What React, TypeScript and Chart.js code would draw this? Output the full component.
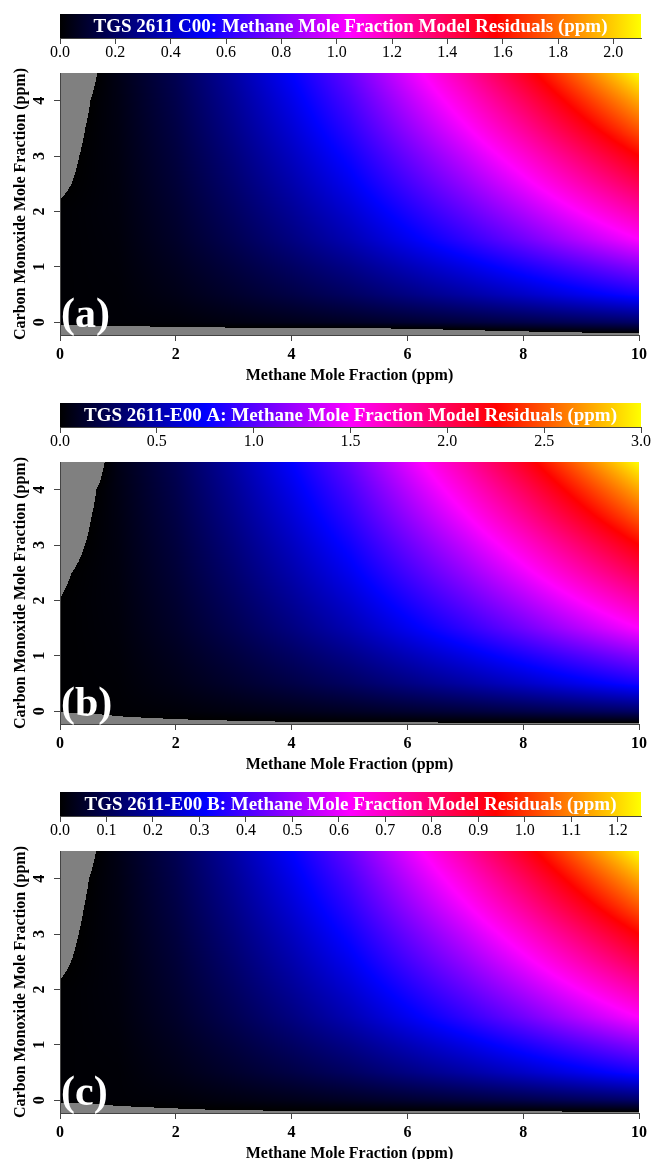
import React, { useEffect, useRef } from 'react';
import { Chart, registerables } from 'chart.js';
Chart.register(...registerables);

// ---------------- data ----------------
const methaneTicks = [0, 2, 4, 6, 8, 10];
const coTicks = [0, 1, 2, 3, 4];
const methaneRange = [0, 10];
const coRange = [-0.23, 4.5];

// grid nodes of the residual surfaces
const gridCH4 = [0, 1, 2, 3, 4, 5, 6, 7, 8, 9, 10];
const gridCO = [-0.25, 0, 0.5, 1, 1.5, 2, 2.5, 3, 3.5, 4, 4.5];

// rows follow gridCO (bottom to top), columns follow gridCH4
const residualsC00 = [
  [-0.04, -0.034, -0.033, -0.055, -0.08, -0.102, -0.116, -0.097, -0.078, -0.064, -0.053],
  [0.01, 0.012, 0.017, 0.034, 0.053, 0.074, 0.099, 0.124, 0.151, 0.181, 0.21],
  [0.008, 0.013, 0.045, 0.091, 0.142, 0.199, 0.267, 0.335, 0.408, 0.488, 0.567],
  [0.007, 0.017, 0.064, 0.128, 0.2, 0.279, 0.375, 0.471, 0.575, 0.686, 0.798],
  [0.006, 0.021, 0.084, 0.168, 0.263, 0.368, 0.494, 0.62, 0.756, 0.903, 1.05],
  [0.005, 0.025, 0.098, 0.197, 0.307, 0.43, 0.577, 0.725, 0.885, 1.057, 1.229],
  [-0.007, 0.028, 0.113, 0.225, 0.352, 0.493, 0.661, 0.83, 1.013, 1.21, 1.407],
  [-0.016, 0.032, 0.126, 0.252, 0.394, 0.551, 0.74, 0.929, 1.134, 1.355, 1.575],
  [-0.027, 0.035, 0.14, 0.281, 0.438, 0.614, 0.824, 1.035, 1.263, 1.508, 1.754],
  [-0.042, 0.038, 0.154, 0.307, 0.48, 0.673, 0.903, 1.134, 1.384, 1.653, 1.922],
  [-0.075, 0.042, 0.168, 0.336, 0.525, 0.735, 0.987, 1.239, 1.512, 1.806, 2.1],
];

const residualsE00A = [
  [-0.058, -0.02, -0.019, -0.023, -0.024, -0.026, -0.035, -0.039, -0.048, -0.049, -0.057],
  [0.005, 0.011, 0.024, 0.048, 0.075, 0.105, 0.141, 0.177, 0.216, 0.258, 0.3],
  [0.006, 0.016, 0.065, 0.13, 0.203, 0.284, 0.381, 0.478, 0.583, 0.697, 0.81],
  [0.004, 0.023, 0.091, 0.182, 0.285, 0.399, 0.536, 0.673, 0.821, 0.98, 1.14],
  [0.003, 0.03, 0.12, 0.24, 0.375, 0.525, 0.705, 0.885, 1.08, 1.29, 1.5],
  [0.001, 0.035, 0.14, 0.281, 0.439, 0.614, 0.825, 1.036, 1.264, 1.509, 1.755],
  [-0.01, 0.04, 0.161, 0.322, 0.503, 0.704, 0.945, 1.186, 1.447, 1.729, 2.01],
  [-0.034, 0.045, 0.18, 0.36, 0.563, 0.788, 1.058, 1.328, 1.62, 1.935, 2.25],
  [-0.059, 0.05, 0.2, 0.401, 0.626, 0.877, 1.177, 1.478, 1.804, 2.154, 2.505],
  [-0.093, 0.055, 0.22, 0.439, 0.686, 0.961, 1.29, 1.62, 1.976, 2.361, 2.745],
  [-0.201, 0.06, 0.24, 0.48, 0.75, 1.05, 1.41, 1.77, 2.16, 2.58, 3.0],
];

const residualsE00B = [
  [-0.026, -0.01, -0.007, -0.008, -0.01, -0.012, -0.015, -0.019, -0.023, -0.024, -0.024],
  [0.005, 0.007, 0.01, 0.02, 0.031, 0.044, 0.059, 0.074, 0.09, 0.108, 0.125],
  [0.005, 0.007, 0.027, 0.054, 0.084, 0.118, 0.159, 0.199, 0.243, 0.29, 0.338],
  [0.004, 0.01, 0.038, 0.076, 0.119, 0.166, 0.223, 0.28, 0.342, 0.409, 0.475],
  [0.003, 0.013, 0.05, 0.1, 0.156, 0.219, 0.294, 0.369, 0.45, 0.538, 0.625],
  [0.002, 0.015, 0.059, 0.117, 0.183, 0.256, 0.344, 0.432, 0.527, 0.629, 0.731],
  [-0.004, 0.017, 0.067, 0.134, 0.209, 0.293, 0.394, 0.494, 0.603, 0.72, 0.838],
  [-0.009, 0.019, 0.075, 0.15, 0.234, 0.328, 0.441, 0.553, 0.675, 0.806, 0.938],
  [-0.015, 0.021, 0.084, 0.167, 0.261, 0.365, 0.491, 0.616, 0.752, 0.898, 1.044],
  [-0.023, 0.023, 0.092, 0.183, 0.286, 0.4, 0.538, 0.675, 0.824, 0.984, 1.144],
  [-0.041, 0.025, 0.1, 0.2, 0.313, 0.438, 0.588, 0.738, 0.9, 1.075, 1.25],
];

const cbTicksC00 = [0, 0.2, 0.4, 0.6, 0.8, 1.0, 1.2, 1.4, 1.6, 1.8, 2.0];
const cbTicksE00A = [0, 0.5, 1.0, 1.5, 2.0, 2.5, 3.0];
const cbTicksE00B = [0, 0.1, 0.2, 0.3, 0.4, 0.5, 0.6, 0.7, 0.8, 0.9, 1.0, 1.1, 1.2];
const cbMaxes = [2.1, 3.0, 1.25];

const panelTitles = [
  'TGS 2611 C00: Methane Mole Fraction Model Residuals (ppm)',
  'TGS 2611-E00 A: Methane Mole Fraction Model Residuals (ppm)',
  'TGS 2611-E00 B: Methane Mole Fraction Model Residuals (ppm)',
];
const panelLetters = ['(a)', '(b)', '(c)'];
const xTitle = 'Methane Mole Fraction (ppm)';
const yTitle = 'Carbon Monoxide Mole Fraction (ppm)';

const rampColors = ['#000000', '#0000ff', '#ff00ff', '#ff0000', '#ffff00'];
const belowRangeColor = [128, 128, 128];

const panelData = [residualsC00, residualsE00A, residualsE00B];
const panelCbTicks = [cbTicksC00, cbTicksE00A, cbTicksE00B];

// ---------------- helpers ----------------
const FONT = '"Liberation Serif", "Times New Roman", serif';

function hexToRgb(h: string) {
  return [parseInt(h.slice(1, 3), 16), parseInt(h.slice(3, 5), 16), parseInt(h.slice(5, 7), 16)];
}
const rampRgb = rampColors.map(hexToRgb);

function ramp(t: number) {
  const tt = Math.max(0, Math.min(1, t));
  const s = tt * (rampRgb.length - 1);
  const k = Math.min(rampRgb.length - 2, Math.floor(s));
  const f = s - k;
  const a = rampRgb[k], b = rampRgb[k + 1];
  return [a[0] + (b[0] - a[0]) * f, a[1] + (b[1] - a[1]) * f, a[2] + (b[2] - a[2]) * f];
}

function sample(values: number[][], xv: number, yv: number) {
  let i = 0;
  while (i < gridCH4.length - 2 && xv > gridCH4[i + 1]) i++;
  let j = 0;
  while (j < gridCO.length - 2 && yv > gridCO[j + 1]) j++;
  const tx = (xv - gridCH4[i]) / (gridCH4[i + 1] - gridCH4[i]);
  const ty = (yv - gridCO[j]) / (gridCO[j + 1] - gridCO[j]);
  const v00 = values[j][i], v10 = values[j][i + 1];
  const v01 = values[j + 1][i], v11 = values[j + 1][i + 1];
  return v00 * (1 - tx) * (1 - ty) + v10 * tx * (1 - ty) + v01 * (1 - tx) * ty + v11 * tx * ty;
}

const PANEL_OFFSETS = [0, 389, 778];
const CB_H = 60;
const HM_H = 330;

function makeColorbar(canvas: HTMLCanvasElement, idx: number) {
  const max = cbMaxes[idx];
  const ticks = panelCbTicks[idx];
  return new Chart(canvas, {
    type: 'scatter',
    data: { datasets: [] },
    options: {
      responsive: false,
      animation: false,
      devicePixelRatio: 1,
      events: [],
      layout: { padding: { left: 60, right: 10, top: 14, bottom: 0 } },
      plugins: { legend: { display: false }, tooltip: { enabled: false } },
      scales: {
        x: {
          type: 'linear',
          position: 'bottom',
          min: 0,
          max,
          afterBuildTicks: (axis: any) => {
            axis.ticks = ticks.map((v) => ({ value: v }));
          },
          afterFit: (axis: any) => {
            axis.height = 22;
          },
          ticks: {
            color: '#000',
            font: { family: FONT, size: 16 },
            padding: -1,
            maxRotation: 0,
            autoSkip: false,
            callback: (v: any) => Number(v).toFixed(1),
          },
          grid: { drawOnChartArea: false, drawTicks: true, tickLength: 6, color: '#444' },
          border: { display: true, color: '#444' },
        },
        y: { display: false, min: 0, max: 1 },
      },
    },
    plugins: [
      {
        id: 'colorbar',
        beforeDraw(chart: any) {
          const { ctx, chartArea: a, scales } = chart;
          const x0 = scales.x.getPixelForValue(0);
          const x1 = scales.x.getPixelForValue(max);
          const g = ctx.createLinearGradient(x0, 0, x1, 0);
          rampColors.forEach((c, k) => g.addColorStop(k / (rampColors.length - 1), c));
          ctx.save();
          ctx.fillStyle = g;
          ctx.fillRect(a.left, a.top, a.right - a.left, a.bottom - a.top);
          ctx.restore();
        },
        afterDraw(chart: any) {
          const { ctx, chartArea: a } = chart;
          ctx.save();
          ctx.fillStyle = '#ffffff';
          ctx.font = `bold 19px ${FONT}`;
          ctx.textAlign = 'center';
          ctx.textBaseline = 'middle';
          ctx.fillText(panelTitles[idx], (a.left + a.right) / 2, (a.top + a.bottom) / 2 + 1);
          ctx.restore();
        },
      },
    ],
  } as any);
}

function makeHeatmap(canvas: HTMLCanvasElement, idx: number) {
  const values = panelData[idx];
  const max = cbMaxes[idx];
  return new Chart(canvas, {
    type: 'scatter',
    data: { datasets: [] },
    options: {
      responsive: false,
      animation: false,
      devicePixelRatio: 1,
      events: [],
      layout: { padding: { left: 0, right: 10, top: 13, bottom: 0 } },
      plugins: { legend: { display: false }, tooltip: { enabled: false } },
      scales: {
        x: {
          type: 'linear',
          position: 'bottom',
          min: methaneRange[0],
          max: methaneRange[1],
          afterBuildTicks: (axis: any) => {
            axis.ticks = methaneTicks.map((v) => ({ value: v }));
          },
          afterFit: (axis: any) => {
            axis.height = 55;
          },
          ticks: {
            color: '#000',
            font: { family: FONT, size: 16, weight: 'bold' },
            padding: 4,
            maxRotation: 0,
            autoSkip: false,
          },
          grid: { drawOnChartArea: false, drawTicks: true, tickLength: 6, color: '#444' },
          border: { display: true, color: '#444' },
          title: {
            display: true,
            text: xTitle,
            color: '#000',
            font: { family: FONT, size: 16, weight: 'bold' },
            padding: { top: 0, bottom: 5 },
          },
        },
        y: {
          type: 'linear',
          position: 'left',
          min: coRange[0],
          max: coRange[1],
          afterBuildTicks: (axis: any) => {
            axis.ticks = coTicks.map((v) => ({ value: v }));
          },
          afterFit: (axis: any) => {
            axis.width = 60;
            axis.paddingTop = 0;
            axis.paddingBottom = 0;
          },
          ticks: {
            color: '#000',
            font: { family: FONT, size: 16, weight: 'bold' },
            padding: 10,
            minRotation: 90,
            maxRotation: 90,
            crossAlign: 'center',
            autoSkip: false,
          },
          grid: { drawOnChartArea: false, drawTicks: true, tickLength: 6, color: '#444' },
          border: { display: true, color: '#444' },
          title: {
            display: true,
            text: yTitle,
            color: '#000',
            font: { family: FONT, size: 16, weight: 'bold' },
            padding: { top: 11, bottom: 0 },
          },
        },
      },
    },
    plugins: [
      {
        id: 'heatmap',
        beforeDraw(chart: any) {
          const { ctx, chartArea: a, scales } = chart;
          const L = Math.round(a.left);
          const T = Math.round(a.top);
          const W = Math.round(a.right) - L;
          const H = Math.round(a.bottom) - T;
          const img = ctx.createImageData(W, H);
          const xs: number[] = [];
          for (let i = 0; i < W; i++) xs.push(scales.x.getValueForPixel(L + i + 0.5));
          for (let j = 0; j < H; j++) {
            const yv = scales.y.getValueForPixel(T + j + 0.5);
            for (let i = 0; i < W; i++) {
              const v = sample(values, xs[i], yv);
              const c = v < 0 ? belowRangeColor : ramp(v / max);
              const o = (j * W + i) * 4;
              img.data[o] = c[0];
              img.data[o + 1] = c[1];
              img.data[o + 2] = c[2];
              img.data[o + 3] = 255;
            }
          }
          ctx.putImageData(img, L, T);
        },
        afterDraw(chart: any) {
          const { ctx, chartArea: a } = chart;
          ctx.save();
          ctx.fillStyle = '#ffffff';
          ctx.font = `bold 42px ${FONT}`;
          ctx.textAlign = 'left';
          ctx.textBaseline = 'alphabetic';
          ctx.fillText(panelLetters[idx], a.left + 1, a.bottom - 8);
          ctx.restore();
        },
      },
    ],
  } as any);
}

export default function App() {
  const cbRefs = [useRef<HTMLCanvasElement>(null), useRef<HTMLCanvasElement>(null), useRef<HTMLCanvasElement>(null)];
  const hmRefs = [useRef<HTMLCanvasElement>(null), useRef<HTMLCanvasElement>(null), useRef<HTMLCanvasElement>(null)];

  useEffect(() => {
    const charts: Chart[] = [];
    for (let k = 0; k < 3; k++) {
      if (cbRefs[k].current) charts.push(makeColorbar(cbRefs[k].current as HTMLCanvasElement, k));
      if (hmRefs[k].current) charts.push(makeHeatmap(hmRefs[k].current as HTMLCanvasElement, k));
    }
    return () => charts.forEach((c) => c.destroy());
  }, []);

  return (
    <div
      style={{
        position: 'absolute',
        left: 0,
        top: 0,
        width: 651,
        height: 1159,
        overflow: 'hidden',
        background: '#ffffff',
      }}
    >
      {PANEL_OFFSETS.map((off, k) => (
        <React.Fragment key={k}>
          <canvas
            ref={cbRefs[k]}
            width={651}
            height={CB_H}
            style={{ position: 'absolute', left: 0, top: off, width: 651, height: CB_H }}
          />
          <canvas
            ref={hmRefs[k]}
            width={651}
            height={HM_H}
            style={{ position: 'absolute', left: 0, top: off + CB_H, width: 651, height: HM_H }}
          />
        </React.Fragment>
      ))}
    </div>
  );
}
